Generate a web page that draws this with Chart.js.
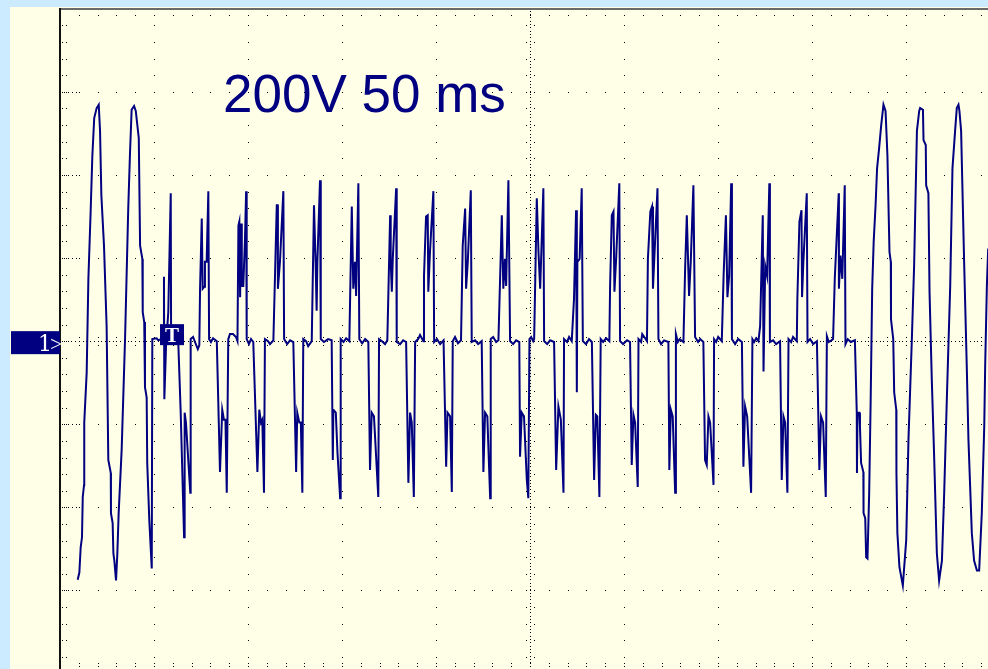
<!DOCTYPE html>
<html>
<head>
<meta charset="utf-8">
<title>Scope trace</title>
<script src="https://cdn.jsdelivr.net/npm/chart.js@4.4.1/dist/chart.umd.min.js"></script>
<style>
    html, body { margin: 0; padding: 0; background: #cdebff; }
    #wrap { width: 988px; height: 669px; position: relative; }
</style>
</head>
<body>
<div id="wrap"><canvas id="scope" width="988" height="669"></canvas></div>
<script>
// ---------------- Data ----------------
// time in ms from the left edge of the screen, voltage in V
const voltsPerDiv = 200;
const msPerDiv = 50;
const scaleLabel = "200V 50 ms";
const channelLabel = "1";
const triggerLabel = "T";
const triggerTime = 53.2;

// opening sine burst
const leadT = [9.4, 10.3, 11.0, 11.7, 12.1, 12.8, 12.9, 14.2, 15.1, 16.3, 17.2, 18.2, 19.5, 20.6, 21.3,
    22.0, 23.4, 24.8, 25.7, 27.0, 27.1, 28.0, 28.4, 28.9, 29.8, 30.5, 31.2, 32.8, 34.6, 36.3,
    37.2, 38.1, 39.4, 40.3, 41.9, 42.6, 43.8, 44.0, 44.8, 45.2, 46.1, 46.4, 47.5, 48.8, 49.1];
const leadV = [-574, -557, -496, -472, -375, -346, -196, -75, 150, 312, 445, 537, 561, 569, 506,
    351, 230, 36, -286, -317, -414, -438, -511, -528, -576, -511, -414, -261, 5, 319,
    448, 557, 566, 554, 489, 230, 198, 70, 46, -111, -136, -293, -431, -547, 5];

// phase-cut section, one line per cycle
const chopT = [
    51.4, 52.3, 53.7, 55.1, 55.3, 55.5, 56.4, 57.6, 58.9, 59.1, 60.6, 62.9, 64.2, 66.0, 66.3, 67.0, 69.3, 69.5,
    70.8, 71.8, 73.3, 74.1, 74.5, 75.4, 75.9, 76.8, 77.1, 78.0, 78.9, 79.3, 80.3, 81.4, 83.4, 85.1, 86.3, 87.2, 88.0, 88.7, 89.5,
    90.4, 92.0, 93.6, 94.4, 94.9, 95.4, 95.8, 96.3, 96.7, 97.5, 98.4, 99.0, 99.3, 100.5, 101.6, 102.8, 105.0, 106.0, 106.9, 107.6, 108.5, 109.0,
    110.7, 111.7, 113.5, 115.3, 115.8, 115.9, 117.0, 118.8, 119.2, 120.8, 122.4, 124.1, 125.6, 126.2, 127.3, 128.1, 128.9, 129.4,
    130.9, 132.0, 133.9, 135.1, 136.0, 136.5, 136.9, 138.3, 138.7, 140.4, 142.6, 144.5, 145.1, 145.4, 146.7, 147.6, 149.0, 149.3,
    150.8, 152.2, 153.9, 155.2, 156.0, 156.9, 157.5, 158.7, 159.2, 160.7, 162.3, 164.0, 164.9, 165.8, 167.0, 169.3, 169.7,
    171.3, 172.9, 174.1, 175.6, 175.9, 176.5, 177.0, 178.8, 179.1, 180.9, 182.5, 184.1, 185.3, 186.2, 187.1, 188.2, 188.9,
    190.5, 191.5, 193.3, 193.6, 194.7, 195.6, 195.9, 196.8, 198.6, 199.0, 200.5, 202.2, 204.0, 205.4, 206.1, 207.5, 208.4, 208.9,
    210.1, 211.7, 213.3, 214.2, 215.5, 216.0, 216.9, 218.5, 219.0, 220.8, 222.4, 224.3, 225.2, 226.1, 227.3, 228.8, 229.1,
    230.4, 232.0, 233.2, 235.0, 235.8, 236.7, 237.3, 238.5, 239.4, 241.0, 242.6, 244.3, 244.7, 245.6, 246.8, 248.3, 249.1, 249.7,
    250.6, 251.7, 252.2, 253.6, 254.5, 255.4, 257.1, 257.5, 259.1, 260.7, 262.8, 263.9, 265.1, 266.4, 267.8, 268.1,
    269.7, 270.8, 272.2, 273.4, 274.5, 274.9, 275.2, 276.4, 277.5, 278.1, 279.8, 281.4, 282.9, 284.1, 285.0, 285.8, 286.9, 287.6,
    288.9, 290.5, 292.2, 292.6, 293.5, 294.4, 294.9, 295.8, 297.5, 297.9, 299.5, 301.6, 303.2, 304.1, 305.0, 305.9, 307.3, 307.7,
    309.1, 309.7, 310.8, 312.2, 312.7, 314.0, 314.9, 315.4, 316.1, 317.8, 318.3, 319.7, 321.3, 323.6, 324.1, 324.9, 325.9, 327.2, 327.6,
    328.6, 329.6, 331.6, 332.5, 333.4, 334.6, 335.5, 336.9, 337.8, 339.4, 340.5, 342.2, 343.1, 344.0, 344.9, 345.8, 347.6, 347.9,
    349.0, 350.1, 352.0, 353.0, 354.2, 355.0, 355.9, 357.0, 357.4, 359.1, 360.7, 362.7, 363.5, 364.4, 365.5, 367.6, 368.3,
    369.2, 370.3, 371.5, 372.4, 373.8, 374.2, 375.1, 376.1, 377.3, 377.6, 379.3, 380.9, 383.0, 383.9, 384.8, 385.7, 386.9, 387.5,
    388.9, 389.9, 391.9, 392.2, 393.3, 394.4, 394.7, 395.4, 397.2, 397.6, 399.0, 400.6, 402.6, 403.9, 404.8, 405.9, 407.3, 407.9,
    408.9, 410.3, 411.2, 412.1, 414.2, 414.3, 415.1, 416.1, 417.4, 417.8, 419.0, 420.6, 422.8, 423.8, 423.9, 424.2, 425.2, 425.5, 426.1, 427.3, 427.4, 428.3, 428.8, 429.5
];
const chopV = [
    7, 2, 5, 0, 155, -140, -12, 70, 356, -2, 2, -2, -172, -472, -172, -196, -365, 5,
    10, -2, -19, -10, 126, 295, 126, 131, 191, 191, 361, 5, -2, 7, 0, -315, -165, -189, -189, -365, 5,
    17, 17, 10, 0, 278, 288, 106, 283, 133, 133, 247, 361, 5, -7, 5, -2, -315, -165, -196, -189, -365, 5,
    0, -7, 2, 327, 327, 126, 191, 361, 5, -7, 2, -2, -315, -172, -196, -196, -365, 5,
    0, -12, 0, 327, 181, 73, 191, 387, 5, -2, 5, 2, -286, -165, -172, -269, -378, 5,
    -2, 7, 0, 324, 126, 191, 109, 380, 5, -5, 5, -2, -310, -172, -181, -375, 5,
    0, -7, 2, 303, 191, 119, 198, 368, -2, -7, 2, -2, -341, -172, -196, -375, -2,
    5, 15, 0, 155, 300, 303, 119, 215, 361, -2, 5, -7, 2, -302, -172, -181, -363, 0,
    10, -5, 2, 230, 319, 126, 191, 363, -2, 2, -7, 0, -315, -172, -181, -378, 5,
    10, -2, 2, 303, 126, 198, 133, 387, 0, -7, 2, -2, -278, -172, -181, -334, -378, 5,
    10, 0, 5, 344, 215, 126, 368, 0, -7, 2, -2, -310, -157, -189, -365, 5,
    -2, 10, 0, 102, 315, -123, 191, 198, 368, 0, -7, 5, -2, -334, -177, -181, -375, 5,
    -2, 7, 0, 133, 303, 312, 119, 198, 380, 0, -7, 2, -2, -298, -177, -196, -351, 5,
    -2, 17, 10, 0, 198, 312, 324, 126, 198, 368, 5, -7, 2, -2, -310, -165, -181, -365, 17,
    -2, 5, -2, 174, 303, 109, 191, 375, 10, -2, 5, -2, -286, -298, -181, -196, -346, 5,
    -2, 10, 0, 162, 303, 106, 157, 380, 5, -7, 5, -2, -302, -157, -181, -365, 5,
    -2, 7, 0, 36, 303, -73, 181, 157, 380, -2, 2, -7, 0, -334, -181, -196, -365, 5,
    -2, 10, 0, 102, 288, 315, 106, 191, 356, -2, 5, -7, 0, -310, -181, -196, -375, 12,
    -2, 2, 5, 150, 356, 126, 206, 150, 375, -7, 5, -2, 2, -172, -317, -172, -172, -206, -293, -315, -414, -426, -520, -523
];

// closing sine burst
const tailT = [430.4, 431.2, 432.0, 432.8, 433.8, 434.6, 435.7, 436.8, 438.0, 439.1, 440.1, 441.2, 441.9, 442.0, 443.2,
    443.7, 444.8, 444.9, 445.4, 446.5, 448.3, 450.1, 451.3, 453.1, 454.3, 455.8, 457.0, 457.5, 459.0, 459.3,
    460.5, 460.7, 461.9, 462.5, 463.7, 464.9, 466.4, 467.6, 469.1, 470.3, 471.7, 473.5, 474.7, 476.1, 477.0,
    477.9, 478.4, 479.3, 480.9, 482.3, 483.2, 485.0, 486.2, 487.7, 488.9, 490.3, 491.6, 492.1, 493.0, 493.7];
const tailV = [-365, -140, 126, 240, 327, 416, 465, 520, 569, 554, 448, 215, 191, 53, 5,
    -123, -165, -317, -462, -544, -588, -479, -237, 5, 181, 506, 554, 561, 557, 484,
    472, 375, 356, 119, -92, -269, -511, -576, -528, -365, -140, 133, 416, 506, 561,
    569, 554, 506, 191, -60, -237, -462, -528, -552, -552, -414, -206, -60, 133, 223];

// screen limits (10 x 8 divisions, right and bottom edge cut off)
const timeMin = 0;
const timeMax = 493.6;
const voltMin = -789;
const voltMax = 797;

// ---------------- Build points ----------------
function toPoints(ts, vs) {
    let pts = [];
    for (let i = 0; i < ts.length; i++) {
        pts.push({ x: ts[i], y: vs[i] });
    }
    return pts;
}
const tracePoints = toPoints(leadT, leadV)
    .concat(toPoints(chopT, chopV))
    .concat(toPoints(tailT, tailV));

// ---------------- Graticule + labels ----------------
const PAPER = "#ffffe8";
const SKY = "#cdebff";
const INK = "#000080";

function dot(ctx, x, y) {
    ctx.fillRect(Math.round(x), Math.round(y), 1, 1);
}

const scopePlugin = {
    id: "scope",
    beforeDraw(chart) {
        const ctx = chart.ctx;
        const a = chart.chartArea;
        const xs = chart.scales.x;
        const ys = chart.scales.y;
        ctx.save();
        ctx.fillStyle = SKY;
        ctx.fillRect(0, 0, chart.width, chart.height);
        ctx.fillStyle = PAPER;
        ctx.fillRect(10, 7, chart.width - 10, chart.height - 7);

        ctx.fillStyle = "#000000";
        const stepT = msPerDiv / 5;
        const stepV = voltsPerDiv / 5;
        // vertical major lines
        for (let t = msPerDiv; t < timeMax; t += msPerDiv) {
            if (t === msPerDiv * 5) continue;
            const px = xs.getPixelForValue(t);
            for (let v = Math.ceil(voltMin / stepV) * stepV; v <= voltMax; v += stepV) {
                dot(ctx, px, ys.getPixelForValue(v));
            }
        }
        // horizontal major lines
        for (let k = -3; k <= 3; k++) {
            if (k === 0) continue;
            const py = ys.getPixelForValue(k * voltsPerDiv);
            for (let t = stepT; t < timeMax; t += stepT) {
                dot(ctx, xs.getPixelForValue(t), py);
            }
            // longer tick at left border
            for (let d = 4; d <= 18; d += 4) dot(ctx, a.left + d, py);
        }
        // centre cross with ticks
        const cx = xs.getPixelForValue(msPerDiv * 5);
        const cy = ys.getPixelForValue(0);
        for (let t = 0; t < timeMax; t += stepT / 5) {
            dot(ctx, xs.getPixelForValue(t), cy);
        }
        for (let t = stepT; t < timeMax; t += stepT) {
            const px = xs.getPixelForValue(t);
            dot(ctx, px, cy - 4);
            dot(ctx, px, cy + 4);
        }
        for (let v = voltMin; v <= voltMax; v += stepV / 5) {
            dot(ctx, cx, ys.getPixelForValue(v));
        }
        for (let v = Math.ceil(voltMin / stepV) * stepV; v <= voltMax; v += stepV) {
            const py = ys.getPixelForValue(v);
            dot(ctx, cx - 4, py);
            dot(ctx, cx + 4, py);
        }
        // border ticks
        for (let v = Math.ceil(voltMin / stepV) * stepV; v <= voltMax; v += stepV) {
            const py = ys.getPixelForValue(v);
            dot(ctx, a.left + 2, py);
            dot(ctx, a.left + 6, py);
        }
        for (let t = stepT; t < timeMax; t += stepT) {
            const px = xs.getPixelForValue(t);
            dot(ctx, px, a.top + 5);
            dot(ctx, px, a.bottom - 6);
            dot(ctx, px, a.bottom - 3);
        }

        // frame
        ctx.fillStyle = "#6a6a6a";
        ctx.fillRect(a.left, a.top - 2, chart.width - a.left, 2);
        ctx.fillStyle = "#111111";
        ctx.fillRect(a.left - 1, a.top - 2, 2, chart.height - a.top + 2);
        ctx.restore();
    },
    afterDraw(chart) {
        const ctx = chart.ctx;
        const a = chart.chartArea;
        const xs = chart.scales.x;
        const ys = chart.scales.y;
        ctx.save();
        // channel marker
        const cy = ys.getPixelForValue(0);
        ctx.fillStyle = INK;
        ctx.fillRect(11, cy - 10, a.left - 11, 23);
        ctx.fillStyle = "#ffffff";
        ctx.font = "22px 'DejaVu Serif', 'Liberation Serif', serif";
        ctx.textBaseline = "alphabetic";
        ctx.textAlign = "left";
        ctx.fillText(channelLabel, 38, cy + 10);
        ctx.font = "22px 'Liberation Serif', 'DejaVu Serif', serif";
        ctx.fillText(">", 50, cy + 10);

        // trigger marker
        const tx = xs.getPixelForValue(triggerTime);
        ctx.fillStyle = INK;
        ctx.fillRect(tx, cy - 17, 24, 21);
        ctx.fillStyle = "#ffffff";
        ctx.font = "bold 21px 'Liberation Serif', 'DejaVu Serif', serif";
        ctx.textAlign = "center";
        ctx.fillText(triggerLabel, tx + 12, cy + 1);

        // scale text
        ctx.fillStyle = INK;
        ctx.font = "53px 'Liberation Sans', Arial, sans-serif";
        ctx.textAlign = "left";
        ctx.fillText(scaleLabel, 223, 112);
        ctx.restore();
    }
};

// ---------------- Chart ----------------
const ctx = document.getElementById("scope").getContext("2d");
new Chart(ctx, {
    type: "line",
    data: {
        datasets: [{
            data: tracePoints,
            borderColor: INK,
            borderWidth: 2,
            pointRadius: 0,
            tension: 0,
            fill: false,
        }, ],
    },
    options: {
        responsive: false,
        animation: false,
        devicePixelRatio: 1,
        events: [],
        layout: { padding: { left: 60, top: 10, right: 0, bottom: 0 } },
        plugins: {
            legend: { display: false },
            tooltip: { enabled: false },
        },
        scales: {
            x: { type: "linear", min: timeMin, max: timeMax, display: false },
            y: { min: voltMin, max: voltMax, display: false },
        },
    },
    plugins: [scopePlugin],
});
</script>
</body>
</html>
